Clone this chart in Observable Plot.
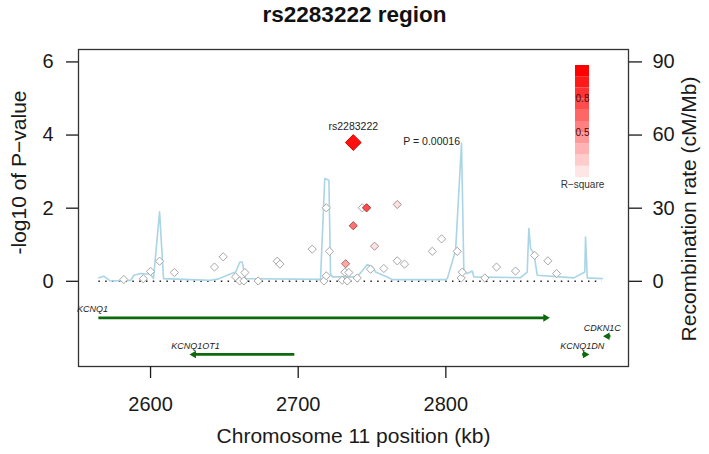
<!DOCTYPE html>
<html><head><meta charset="utf-8">
<script src="https://cdn.jsdelivr.net/npm/d3@7"></script>
<script src="https://cdn.jsdelivr.net/npm/@observablehq/plot@0.6"></script>
<style>
body{margin:0;background:#fff;font-family:"Liberation Sans",Arial,Helvetica,sans-serif;}
#wrap{position:relative;width:709px;height:454px;overflow:hidden;}
#title{height:30px;line-height:30px;text-align:center;font-weight:bold;font-size:22.5px;color:#111;}
#legend{position:absolute;left:555px;top:55px;}
</style></head><body>
<div id="wrap"><div id="title">rs2283222 region</div><div id="chart"></div><div id="legend"></div></div>
<script>
// ---- SNPs (position kb, -log10 P, r-square with lead SNP)
const snpPos = [2581.9, 2595.1, 2600.0, 2606.1, 2616.1, 2643.3, 2649.2, 2657.6, 2660.3, 2663.2,
  2663.9, 2672.9, 2685.8, 2687.6, 2709.5, 2717.4, 2719.0, 2719.0, 2721.2, 2729.8,
  2731.6, 2732.1, 2733.2, 2734.3, 2737.3, 2740.0, 2743.4, 2746.3, 2749.0, 2751.7,
  2758.0, 2767.1, 2767.1, 2772.0, 2790.8, 2797.1, 2807.7, 2810.4, 2811.1, 2826.4,
  2834.3, 2847.2, 2860.1, 2869.1, 2875.0];
const snpLogP = [0.05, 0.07, 0.27, 0.55, 0.24, 0.39, 0.67, 0.12, 0.01, 0.01,
  0.24, 0.01, 0.55, 0.47, 0.88, 0.01, 0.15, 2.01, 0.82, 0.03,
  0.25, 0.48, 0.01, 0.24, 1.52, 0.09, 2.01, 2.01, 0.33, 0.96,
  0.35, 2.10, 0.56, 0.47, 0.82, 1.16, 0.82, 0.09, 0.25, 0.09,
  0.39, 0.28, 0.71, 0.56, 0.21];
const snpR2 = [0, 0, 0, 0, 0, 0, 0, 0, 0, 0,
  0, 0, 0, 0, 0, 0, 0, 0, 0, 0,
  0, 0.35, 0, 0, 0.55, 0, 0, 0.7, 0, 0.12,
  0, 0.12, 0, 0, 0, 0, 0, 0, 0, 0,
  0, 0, 0, 0, 0];
// ---- lead SNP
const leadName = "rs2283222";
const leadPos = 2737.3;
const leadP = 0.00016;
// ---- recombination rate (cM/Mb)
const recombPos = [2565.0, 2568.2, 2572.9, 2586.5, 2588.7, 2593.2, 2600.0, 2602.0, 2606.1, 2608.8,
  2640.6, 2646.1, 2651.9, 2657.6, 2660.5, 2662.1, 2663.2, 2664.3, 2715.1, 2718.0,
  2720.8, 2721.9, 2723.1, 2740.0, 2746.8, 2750.2, 2752.4, 2760.3, 2763.7, 2799.8,
  2801.0, 2806.6, 2810.6, 2812.2, 2814.5, 2817.9, 2819.0, 2850.6, 2855.1, 2856.2,
  2857.4, 2859.6, 2861.9, 2886.7, 2894.1, 2894.6, 2895.8, 2905.9];
const recombRate = [1.5, 2.1, 0.1, 0.4, 2.5, 3.2, 2.9, 1.1, 28.5, 1.1,
  0.4, 1.0, 2.5, 3.8, 7.9, 7.9, 4.5, 1.1, 0.8, 42.2,
  41.5, 3.2, 1.8, 1.8, 6.9, 5.9, 3.8, 1.8, 0.7, 0.7,
  1.1, 12.7, 56.6, 3.8, 3.2, 4.2, 1.8, 1.5, 3.8, 21.7,
  13.4, 11.4, 2.5, 1.4, 3.8, 18.2, 1.4, 1.1];
// ---- genes
const geneName = ["KCNQ1", "KCNQ1OT1", "CDKN1C", "KCNQ1DN"];
const geneStart = [2565.0, 2629.3, 2909.4, 2892.7];
const geneEnd = [2867.5, 2697.7, 2911.8, 2894.3];
const geneStrand = ["+", "-", "-", "+"];
const geneRow = [-1, -2, -1.5, -2];
const geneLabelAt = [2560.7, 2630.5, 2905.9, 2892.4];
// ---- axes
const xTicks = [2600, 2700, 2800];
const yTicks = [0, 2, 4, 6];
const rateTicks = [0, 30, 60, 90];
const rateMax = 90, logPMax = 6;
const legendLevels = [0.1, 0.2, 0.3, 0.4, 0.5, 0.6, 0.7, 0.8, 0.9, 1.0];
const legendTicks = [0.8, 0.5];

const rateFactor = rateMax / logPMax;
const r2Color = v => d3.interpolateRgb("#ffffff", "#ff0000")(v);
const snps = snpPos.map((p, i) => ({pos: p, logp: snpLogP[i], r2: snpR2[i]}));
const lead = [{pos: leadPos, logp: -Math.log10(leadP)}];
const recomb = recombPos.map((p, i) => ({pos: p, y: recombRate[i] / rateFactor}));
const genes = geneName.map((g, i) => ({name: g, start: geneStart[i], end: geneEnd[i], strand: geneStrand[i], row: geneRow[i], lab: geneLabelAt[i]}));
const rext = d3.extent(recombPos);
const font = '"Liberation Sans", Arial, Helvetica, sans-serif';

const chart = Plot.plot({
  width: 709, height: 424,
  marginLeft: 78, marginRight: 81, marginTop: 19, marginBottom: 88,
  style: {fontFamily: font, fontSize: "20px", color: "#1a1a1a", background: "white", overflow: "visible"},
  x: {domain: [2551.2, 2923.7], axis: null},
  y: {domain: [-2.33, 6.34], axis: null},
  marks: [
    Plot.ruleY([0], {x1: () => rext[0], x2: () => rext[1], stroke: "#222", strokeWidth: 1.5, strokeDasharray: "1.5,5.3"}),
    Plot.line(recomb, {x: "pos", y: "y", stroke: "#a9d5e6", strokeWidth: 1.6}),
    Plot.ruleY(genes, {y: "row", x1: "start", x2: "end", stroke: "#0b6a0b", strokeWidth: 2.8}),
    Plot.dot(genes, {x: d => d.strand === "+" ? d.end : d.start, y: "row", symbol: "triangle2", r: 3.6, fill: "#0b6a0b", rotate: d => d.strand === "+" ? 90 : -90}),
    Plot.text(genes, {x: "lab", y: "row", text: "name", dy: -8.5, fontSize: 9, fontStyle: "italic", fill: "#222"}),
    Plot.dot(snps, {x: "pos", y: "logp", symbol: "diamond2", r: 3.7, fill: d => r2Color(d.r2), stroke: d => d3.color(r2Color(d.r2)).darker(1.2).formatHex(), strokeWidth: 1}),
    Plot.dot(lead, {x: "pos", y: "logp", symbol: "diamond2", r: 7.1, fill: "#ff1010", stroke: "#c80000", strokeWidth: 1}),
    Plot.text(lead, {x: "pos", y: "logp", text: () => leadName, dy: -16, fontSize: 10.5, fill: "#222"}),
    Plot.text(lead, {x: "pos", y: "logp", text: () => "P = " + leadP, dx: 50, dy: -1, textAnchor: "start", fontSize: 10.5, fill: "#222"}),
    Plot.frame({stroke: "#333", strokeWidth: 1.3}),
    Plot.axisX({ticks: xTicks, tickFormat: d => String(d), tickSize: 12, tickPadding: 18, label: null, fontSize: 20, strokeWidth: 1.3}),
    Plot.axisY({anchor: "left", ticks: yTicks, tickFormat: d => String(d), tickSize: 12, tickPadding: 13, label: null, fontSize: 20, strokeWidth: 1.3}),
    Plot.axisY({anchor: "right", ticks: rateTicks.map(t => t / rateFactor), tickFormat: d => String(Math.round(d * rateFactor)), tickSize: 13, tickPadding: 11, label: null, fontSize: 20, strokeWidth: 1.3}),
    Plot.text(["Chromosome 11 position (kb)"], {text: d => d, frameAnchor: "bottom", dy: 76, fontSize: 21, fill: "#1a1a1a"}),
    Plot.text(["-log10 of P\u2212value"], {text: d => d, frameAnchor: "left", textAnchor: "middle", rotate: -90, dx: -59, dy: -35.5, fontSize: 21, fill: "#1a1a1a"}),
    Plot.text(["Recombination rate (cM/Mb)"], {text: d => d, frameAnchor: "right", textAnchor: "middle", rotate: -90, dx: 61, dy: 1, fontSize: 21, fill: "#1a1a1a"})
  ]
});
document.getElementById("chart").appendChild(chart);

const legend = Plot.plot({
  width: 60, height: 140,
  marginLeft: 20, marginRight: 26, marginTop: 10, marginBottom: 18,
  style: {fontFamily: font, background: "transparent", overflow: "visible"},
  x: {domain: [0, 1], axis: null},
  y: {domain: [0.1, 1.1], axis: null},
  marks: [
    Plot.rect(legendLevels, {x1: () => 0, x2: () => 1, y1: d => d, y2: d => d + 0.1, fill: d => r2Color(d)}),
    Plot.text(legendTicks, {x: () => 0.5, y: d => d, text: d => d.toFixed(1), fontSize: 10, fill: "#4a0a0a"}),
    Plot.text(["R\u2212square"], {text: d => d, frameAnchor: "bottom", dy: 10, fontSize: 10, fill: "#333"})
  ]
});
document.getElementById("legend").appendChild(legend);
</script>
</body></html>
